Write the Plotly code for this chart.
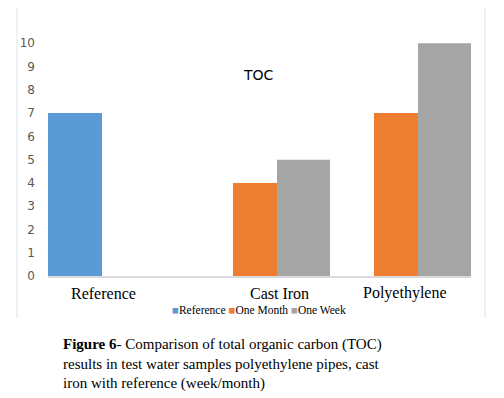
import plotly.graph_objects as go

categories = ["Reference", "Cast Iron", "Polyethylene"]
series_names = ["Reference", "One Month", "One Week"]
reference_vals = [7, None, None]
one_month_vals = [None, 4, 7]
one_week_vals = [None, 5, 10]
y_ticks = list(range(0, 11))
colors = ["#5B9BD5", "#ED7D31", "#A5A5A5"]
chart_title = "TOC"
caption_bold = "Figure 6"
caption_rest = ("- Comparison of total organic carbon (TOC)<br>"
                "results in test water samples polyethylene pipes, cast<br>"
                "iron with reference (week/month)")

series_vals = [reference_vals, one_month_vals, one_week_vals]
offsets = [-0.5, -0.188, 0.124]
widths = [0.383, 0.312, 0.376]

fig = go.Figure()
for name, vals, col, off, w in zip(series_names, series_vals, colors, offsets, widths):
    fig.add_trace(go.Bar(x=categories, y=vals, name=name, marker_color=col,
                         marker_line_width=0, offset=off, width=w, showlegend=False))

serif = "Liberation Serif"
sans = "DejaVu Sans"

annotations = []
label_shifts = [-15, 20, 4]
for cat, sh in zip(categories, label_shifts):
    annotations.append(dict(x=cat, y=0, xref="x", yref="y", text=cat, showarrow=False,
                            xshift=sh, yshift=-17, yanchor="middle",
                            font=dict(family=serif, size=16, color="#000000")))
annotations.append(dict(x=0.4965, y=0.785, xref="paper", yref="paper", text=chart_title,
                        showarrow=False, xanchor="center", yanchor="middle",
                        font=dict(family=sans, size=14, color="#000000")))
legend_text = "".join(
    f'<span style="color:{c}">■</span>{n} ' for n, c in zip(series_names, colors)
).strip()
annotations.append(dict(x=0.499, y=-0.133, xref="paper", yref="paper", text=legend_text,
                        showarrow=False, xanchor="center", yanchor="middle",
                        font=dict(family=serif, size=11.5, color="#000000")))
annotations.append(dict(x=(61 - 48) / 423, y=-0.2266, xref="paper", yref="paper",
                        text=f"<b>{caption_bold}</b>{caption_rest}", showarrow=False,
                        xanchor="left", yanchor="top", align="left",
                        font=dict(family=serif, size=15, color="#000000")))

border_col = "#DCE3EC"
shapes = [
    dict(type="line", xref="paper", yref="paper", x0=-0.0733, x1=-0.0733, y0=1.0508, y1=-0.164,
         line=dict(color=border_col, width=1)),
    dict(type="line", xref="paper", yref="paper", x0=1.033, x1=1.033, y0=1.0508, y1=-0.164,
         line=dict(color=border_col, width=1)),
    dict(type="line", xref="paper", yref="paper", x0=-0.0733, x1=1.033, y0=1.0508, y1=1.0508,
         line=dict(color=border_col, width=1)),
]

fig.update_layout(
    width=504, height=398,
    margin=dict(l=40, r=41, t=12, b=130),
    paper_bgcolor="white", plot_bgcolor="white",
    barmode="overlay",
    showlegend=False,
    annotations=annotations,
    shapes=shapes,
    xaxis=dict(type="category", range=[-0.5, 2.5], showticklabels=False, ticks="",
               showline=True, linecolor="#D9D9D9", linewidth=2, showgrid=False, zeroline=False,
               fixedrange=True),
    yaxis=dict(range=[0, 11], tickvals=y_ticks, showgrid=False, zeroline=False, showline=False,
               ticks="", ticklabelstandoff=12,
               tickfont=dict(family=sans, size=12, color="#595959")),
)

fig.write_html("out.html")
